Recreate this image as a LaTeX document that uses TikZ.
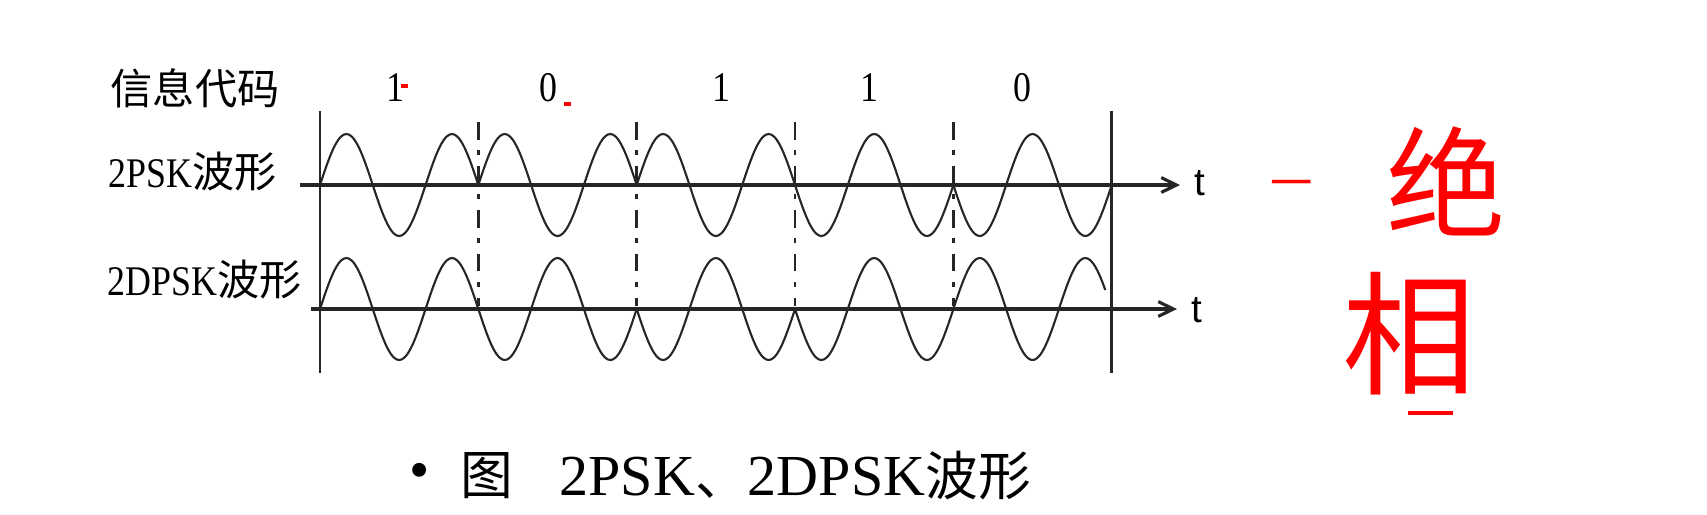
\documentclass[tikz,border=0pt]{standalone}
\usepackage{fontspec}
\usepackage{tikz}
\usetikzlibrary{arrows.meta}
\setmainfont{Liberation Serif}
\newfontfamily\cjk{Noto Sans CJK SC}
\newfontfamily\simlat[FakeStretch=0.85]{Liberation Serif}
\newfontfamily\sanslat{Liberation Sans}
\newcommand\zh[1]{{\cjk\fontsize{12pt}{14pt}\selectfont #1}}
\newcommand\lab{\simlat\fontsize{12pt}{14pt}\selectfont}

\begin{document}
\begin{tikzpicture}[x=0.01cm, y=-0.01cm,
      every node/.append style={inner sep=0pt},
      wave/.style={line width=0.6pt, black!85},
      frame/.style={line width=0.8pt, black!85},
      axis/.style={line width=0.9pt, black!85, -{Straight Barb[length=4.3pt, width=4.2pt]}},
      bound/.style={line width=0.7pt, black!85, dash pattern=on 5pt off 3pt on 1.5pt off 3pt},
      redink/.style={red, line width=0.9pt},
      redtext/.style={text=red}]
    \useasboundingbox (0,0) rectangle (1707,514);
    % frame and time axes
    \coordinate (lt) at (320,111);   \coordinate (lb) at (320,373);
    \coordinate (rt) at (1111.7,111); \coordinate (rb) at (1111.7,373);
    \coordinate (a1w) at (300,185);  \coordinate (a1e) at (1180,185);
    \coordinate (a2w) at (311,309);  \coordinate (a2e) at (1177,309);
    \draw[frame] (lt) -- (lb);
    \draw[frame] (rt) -- (rb);
    \draw[axis] (a1w) -- (a1e);
    \draw[axis] (a2w) -- (a2e);
    \node[font=\sanslat\fontsize{11pt}{13pt}\selectfont] (t1) at (1200,183) {t};
    \node[font=\sanslat\fontsize{11pt}{13pt}\selectfont] (t2) at (1197,310) {t};
    % bit boundaries
    \foreach \k in {1,...,4} {
      \coordinate (d\k t) at ({320+158.34*\k},122);
      \coordinate (d\k b) at ({320+158.34*\k},306);
      \draw[bound] (d\k t) -- (d\k b);
    }
    % 2PSK
    \foreach \ph [count=\k from 0] in {0,0,0,180,180}
      \draw[wave] plot[domain=0:1, samples=61, smooth]
        ({320+158.34*(\k+\x)}, {185-51*sin(540*\x+\ph)});
    % 2DPSK
    \foreach \ph/\dom [count=\k from 0] in {0/1,180/1,180/1,180/1,0/0.96}
      \draw[wave] plot[domain=0:\dom, samples=61, smooth]
        ({320+158.34*(\k+\x)}, {309-51*sin(540*\x+\ph)});
    % labels
    \node[anchor=west] (lcode) at (110,88) {\zh{信息代码}};
    \node[anchor=west] (lpsk) at (108,172) {{\lab 2PSK}\zh{波形}};
    \node[anchor=west] (ldpsk) at (107,280) {{\lab 2DPSK}\zh{波形}};
    \foreach \b/\xp [count=\i] in {1/395,0/548,1/721,1/869,0/1022}
      \node[font=\lab] (bit\i) at (\xp,88) {\b};
    % caption
    \node[font=\fontsize{16.5pt}{18pt}\selectfont] (bul) at (420,476) {•};
    \node (capfig) at (487,476) {{\cjk\fontsize{15pt}{18pt}\selectfont 图}};
    \node[anchor=west] (captext) at (559,476)
      {{\fontsize{16.5pt}{18pt}\selectfont 2PSK}{\cjk\fontsize{15pt}{18pt}\selectfont 、}%
       {\fontsize{16.5pt}{18pt}\selectfont 2DPSK}{\cjk\fontsize{15pt}{18pt}\selectfont 波形}};
    % red notes
    \coordinate (m1a) at (401,86);  \coordinate (m1b) at (408,86);
    \coordinate (m2a) at (564,104); \coordinate (m2b) at (571,104);
    \draw[redink] (m1a) -- (m1b);
    \draw[redink] (m2a) -- (m2b);
    \node[redtext] (hyi) at (1292,189) {{\cjk\fontsize{12pt}{13pt}\selectfont 一}};
    \node[redtext] (hjue) at (1446,181) {{\cjk\fontsize{34pt}{36pt}\selectfont 绝}};
    \node[redtext] (hxiang) at (1409,334) {{\cjk\fontsize{38pt}{40pt}\selectfont 相}};
    \coordinate (ula) at (1408,413); \coordinate (ulb) at (1453,413);
    \draw[redink] (ula) -- (ulb);
  \end{tikzpicture}
\end{document}
